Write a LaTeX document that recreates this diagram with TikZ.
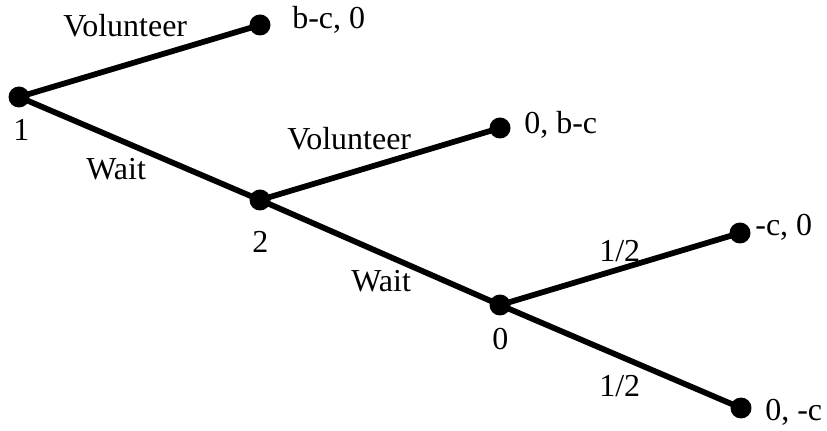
\documentclass[tikz,border=0pt]{standalone}
\usepackage{fontspec}
\setmainfont{Liberation Serif}
\begin{document}
\begin{tikzpicture}[x=0.02cm,y=-0.02cm,
  dot/.style={circle,fill=black,inner sep=0pt,minimum size=0.42cm},
  edge/.style={line width=0.115cm},
  lbl/.style={inner sep=0pt,anchor=base west,font=\fontsize{18.2}{21}\selectfont}]
\useasboundingbox (0,0) rectangle (827,431);
\node[dot] (n1) at (19,97) {};
\node[dot] (v1) at (260,25) {};
\node[dot] (n2) at (260,200) {};
\node[dot] (v2) at (500,128) {};
\node[dot] (n0) at (500,305) {};
\node[dot] (c1) at (740,233) {};
\node[dot] (c2) at (741,408) {};
\draw[edge] (n1.center) -- (v1.center);
\draw[edge] (n1.center) -- (n2.center);
\draw[edge] (n2.center) -- (v2.center);
\draw[edge] (n2.center) -- (n0.center);
\draw[edge] (n0.center) -- (c1.center);
\draw[edge] (n0.center) -- (c2.center);
\node[lbl] (t1) at (63,37) {Volunteer};
\node[lbl] (t2) at (292,29) {b-c, 0};
\node[lbl] (t3) at (13,141) {1};
\node[lbl] (t4) at (86,180) {Wait};
\node[lbl] (t5) at (287,150) {Volunteer};
\node[lbl] (t6) at (524,134) {0, b-c};
\node[lbl] (t7) at (252,253) {2};
\node[lbl] (t8) at (351,292) {Wait};
\node[lbl] (t9) at (599,262) {1/2};
\node[lbl] (t10) at (492,350) {0};
\node[lbl] (t11) at (755,236) {-c, 0};
\node[lbl] (t12) at (599,397) {1/2};
\node[lbl] (t13) at (765,420) {0, -c};
\end{tikzpicture}
\end{document}
